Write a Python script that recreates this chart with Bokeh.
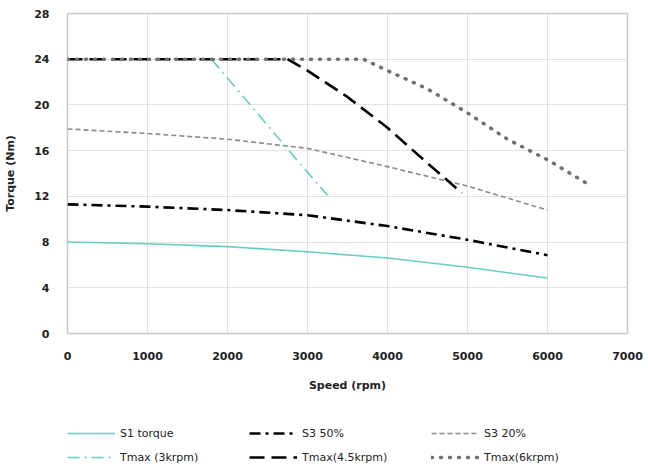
from bokeh.plotting import figure
from bokeh.models import Legend, LegendItem, Range1d, FixedTicker
from bokeh.layouts import column
from bokeh.embed import file_html
from bokeh.resources import INLINE

# ---- data ----
s1_speed = [0, 1000, 2000, 3000, 4000, 5000, 6000]
s1_torque = [8.0, 7.85, 7.6, 7.15, 6.6, 5.8, 4.85]

s3_50_speed = [0, 1000, 2000, 3000, 4000, 5000, 6000]
s3_50_torque = [11.3, 11.1, 10.8, 10.35, 9.4, 8.2, 6.85]

s3_20_speed = [0, 1000, 2000, 3000, 4000, 5000, 6000]
s3_20_torque = [17.9, 17.5, 17.0, 16.2, 14.6, 12.9, 10.8]

t3_speed = [1800, 2200, 2600, 3000, 3250]
t3_torque = [24.0, 20.7, 17.4, 14.1, 12.1]

t45_speed = [0, 2750, 3000, 3500, 4000, 4500, 4930]
t45_torque = [24.0, 24.0, 23.0, 20.7, 18.0, 14.9, 12.3]

t6_speed = [0, 3700, 4000, 4500, 5000, 5500, 6000, 6500]
t6_torque = [24.0, 24.0, 23.0, 21.4, 19.3, 17.0, 15.2, 13.1]

series_labels = ["S1 torque", "S3 50%", "S3 20%",
                 "Tmax (3krpm)", "Tmax(4.5krpm)", "Tmax(6krpm)"]

x_ticks = [0, 1000, 2000, 3000, 4000, 5000, 6000, 7000]
y_ticks = [0, 4, 8, 12, 16, 20, 24, 28]

FONT = "DejaVu Sans"
teal = "#66cdc6"

styles = [
    dict(line_color=teal, line_width=1.6),
    dict(line_color="black", line_width=2.6, line_dash="11 5 3 5"),
    dict(line_color="#8a8a8a", line_width=1.6, line_dash="5 3"),
    dict(line_color=teal, line_width=1.6, line_dash="12 5 2 5"),
    dict(line_color="black", line_width=2.6, line_dash="15 7"),
    dict(line_color="#707070", line_width=3.5, line_dash="1 8", line_cap="round"),
]
series = [(s1_speed, s1_torque), (s3_50_speed, s3_50_torque),
          (s3_20_speed, s3_20_torque), (t3_speed, t3_torque),
          (t45_speed, t45_torque), (t6_speed, t6_torque)]

# ---- main chart ----
p = figure(width=648, height=410, output_backend="svg", toolbar_location=None,
           x_range=Range1d(0, 7000), y_range=Range1d(0, 28),
           min_border_left=67, min_border_right=21, min_border_top=13,
           min_border_bottom=77)

p.outline_line_color = "#c8c8c8"
p.outline_line_width = 1.5
p.background_fill_color = "white"
p.border_fill_color = "white"

for ax in (p.xaxis[0], p.yaxis[0]):
    ax.axis_line_color = None
    ax.major_tick_line_color = None
    ax.minor_tick_line_color = None
    ax.major_label_text_font = FONT
    ax.major_label_text_font_style = "bold"
    ax.major_label_text_font_size = "11px"
    ax.major_label_text_color = "#222222"
    ax.axis_label_text_font = FONT
    ax.axis_label_text_font_style = "bold"
    ax.axis_label_text_font_size = "11px"
    ax.axis_label_text_color = "#222222"

p.xaxis.ticker = FixedTicker(ticks=x_ticks)
p.yaxis.ticker = FixedTicker(ticks=y_ticks)
p.xaxis.axis_label = "Speed (rpm)"
p.yaxis.axis_label = "Torque (Nm)"
p.xaxis.major_label_standoff = 12
p.xaxis.axis_label_standoff = 16
p.yaxis.major_label_standoff = 12
p.yaxis.axis_label_standoff = 14

p.xgrid.grid_line_color = "#e2e2e2"
p.ygrid.grid_line_color = "#e2e2e2"

for (xs, ys), st in zip(series, styles):
    p.line(xs, ys, **st)

# ---- legend strip below (proxies drawn outside its visible range) ----
lg = figure(width=648, height=58, output_backend="svg", toolbar_location=None,
            x_axis_type=None, y_axis_type=None,
            x_range=Range1d(-20000, -10000), y_range=Range1d(-20000, -10000),
            min_border_left=0, min_border_right=0, min_border_top=0,
            min_border_bottom=0)
lg.outline_line_color = None
lg.xgrid.visible = False
lg.ygrid.visible = False

items = []
for label, (xs, ys), st in zip(series_labels, series, styles):
    r = lg.line(xs, ys, **st)
    items.append(LegendItem(label=label, renderers=[r]))

legend = Legend(items=items, orientation="horizontal", ncols=3)
legend.label_text_font = FONT
legend.label_text_font_size = "11px"
legend.label_text_color = "#222222"
legend.glyph_width = 48
legend.glyph_height = 20
legend.label_height = 20
legend.label_width = 125
legend.label_standoff = 5
legend.spacing = 4
legend.border_line_color = None
legend.background_fill_alpha = 0
legend.padding = 0
legend.margin = 0
legend.location = (0, 1)
lg.add_layout(legend, "center")

layout = column(p, lg, spacing=0)
open("out.html", "w").write(file_html(layout, INLINE))
